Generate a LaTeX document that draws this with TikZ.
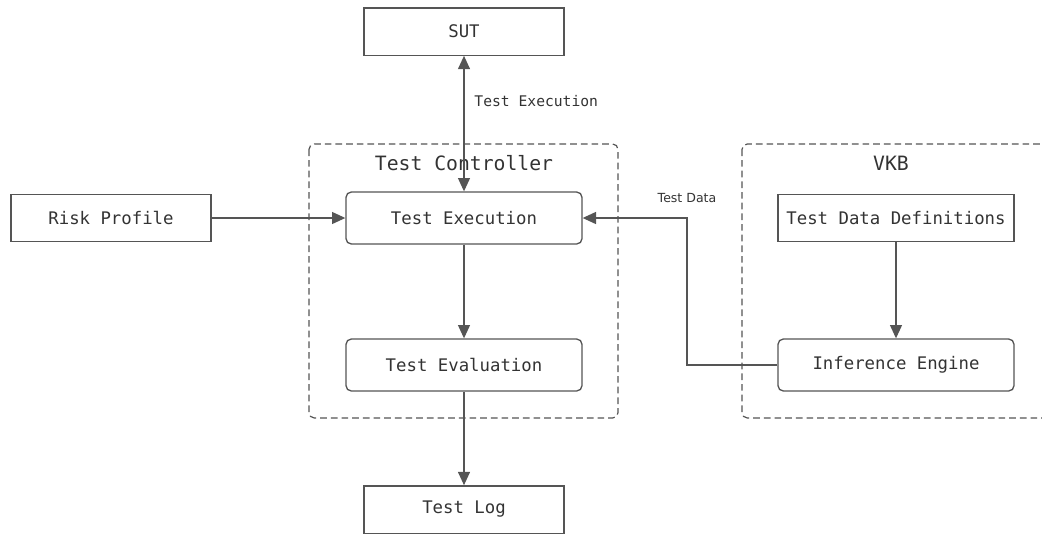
\documentclass[tikz,border=0pt]{standalone}
\usepackage{fontspec}
\setmonofont{DejaVu Sans Mono}
\setsansfont{DejaVu Sans}
\usetikzlibrary{positioning,arrows.meta}
\definecolor{linegray}{HTML}{555555}
\definecolor{textgray}{HTML}{333333}
\begin{document}
\begin{tikzpicture}[x=0.75pt, y=-0.75pt,
            box/.style={rectangle, draw=linegray, line width=1pt, text=textgray, font=\ttfamily\fontsize{13}{15}\selectfont, minimum width=150pt, minimum height=35.5pt},
            roundbox/.style={box, rounded corners=4pt, minimum width=177pt, minimum height=39pt},
            group/.style={draw=linegray, line width=0.9pt, dash pattern=on 5pt off 3pt, rounded corners=4pt},
            grouptitle/.style={text=textgray, font=\ttfamily\fontsize{14.8}{17}\selectfont},
            flow/.style={draw=linegray, line width=1pt, -{Triangle[length=10pt, width=9pt]}},
            flowlabel/.style={text=textgray, font=\ttfamily\fontsize{11}{13}\selectfont},
        ]
            \useasboundingbox (0,0) rectangle (1042,533);
            % groups
            \draw[group] (309,144) rectangle (618,418);
            \draw[group] (742,144) rectangle (1050,418);
            \node[grouptitle](ctrltitle) at (464,163) {Test Controller};
            \node[grouptitle](vkbtitle) at (891,163) {VKB};
            % nodes
            \node[box](sut) at (464,31.5) {SUT};
            \node[box](risk) at (111,218) {Risk Profile};
            \node[roundbox](exec) at (464,218) {Test Execution};
            \node[roundbox](eval) at (464,365) {Test Evaluation};
            \node[box](log) at (464,509.5) {Test Log};
            \node[box, minimum width=177pt](defs) at (896,218) {Test Data Definitions};
            \node[roundbox](infer) at (896,365) {Inference Engine};
            \coordinate(tdturn) at (687,365);
            % connectors
            \draw[flow, {Triangle[length=10pt, width=9pt]}-{Triangle[length=10pt, width=9pt]}] (sut) -- node[flowlabel, pos=0.33, right=4pt] {Test Execution} (exec);
            \draw[flow] (risk) -- (exec);
            \draw[flow] (exec) -- (eval);
            \draw[flow] (eval) -- (log);
            \draw[flow] (defs) -- (infer);
            \draw[flow] (infer.west) -- (tdturn) |- node[pos=0.5, above=11pt, inner sep=0pt, text=textgray, font=\sffamily\fontsize{9.4}{11}\selectfont] {Test Data} (exec.east);
        \end{tikzpicture}
\end{document}
